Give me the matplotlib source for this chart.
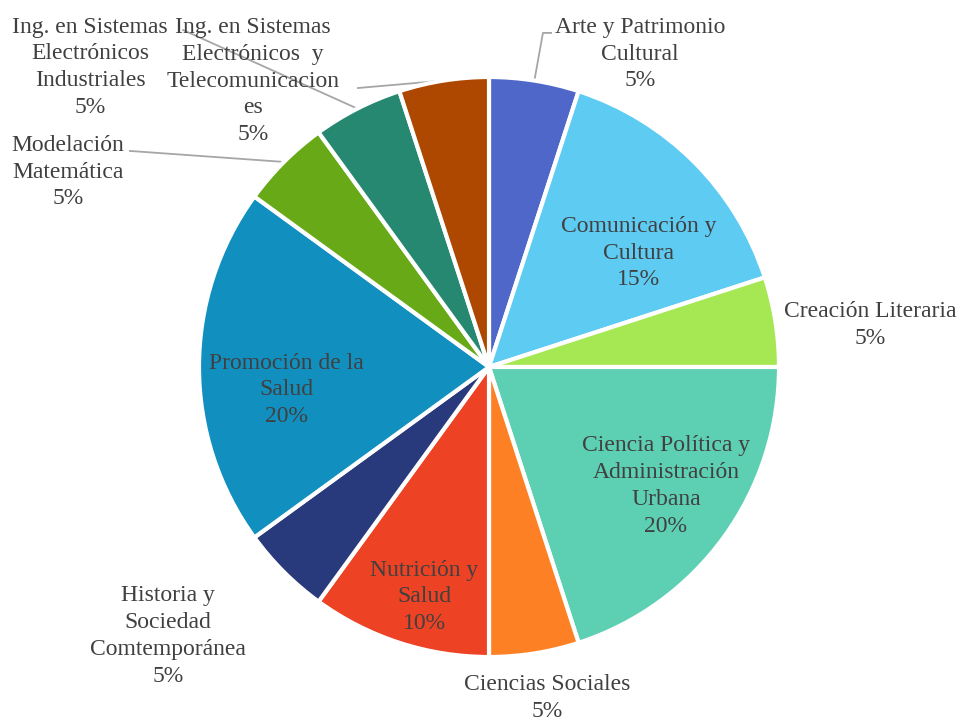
import matplotlib.pyplot as plt
import numpy as np

# Datos del gráfico (porcentajes por carrera)
carreras = [
    "Arte y Patrimonio\nCultural",
    "Comunicación y\nCultura",
    "Creación Literaria",
    "Ciencia Política y\nAdministración\nUrbana",
    "Ciencias Sociales",
    "Nutrición y\nSalud",
    "Historia y\nSociedad\nComtemporánea",
    "Promoción de la\nSalud",
    "Modelación\nMatemática",
    "Ing. en Sistemas\nElectrónicos\nIndustriales",
    "Ing. en Sistemas\nElectrónicos  y\nTelecomunicacion\nes",
]
porcentajes = [5, 15, 5, 20, 5, 10, 5, 20, 5, 5, 5]
colores = ["#4f67c9", "#5ecbf3", "#a6e853", "#5dcfb3", "#fd8124", "#ee4224",
           "#293a7c", "#118fbf", "#68a917", "#268870", "#ae4700"]

# Posiciones de las etiquetas (centro del pastel en 0,0 y radio 1)
pos_etiquetas = [(0.521, 1.079), (0.517, 0.393), (1.314, 0.145), (0.610, -0.410),
                 (0.200, -1.141), (-0.224, -0.793), (-1.107, -0.928), (-0.697, -0.079),
                 (-1.452, 0.672), (-1.376, 1.034), (-0.814, 0.986)]

# Líneas guía: índice de la porción -> puntos del lado del texto
guias = {
    0: [(0.186, 1.152), (0.214, 1.152)],
    8: [(-1.238, 0.745)],
    9: [(-1.055, 1.162)],
    10: [(-0.452, 0.962)],
}

plt.rcParams["font.family"] = ["Liberation Serif", "DejaVu Serif"]

fig = plt.figure(figsize=(9.6, 7.2), dpi=100)
ax = fig.add_axes([0, 0, 1, 1])

wedges, _ = ax.pie(porcentajes, colors=colores, startangle=90, counterclock=False,
                   radius=1, center=(0, 0),
                   wedgeprops={"edgecolor": "white", "linewidth": 3})

total = sum(porcentajes)
acum = 0
for i, (nombre, v) in enumerate(zip(carreras, porcentajes)):
    medio = (acum + v / 2) / total * 2 * np.pi
    acum += v
    x, y = pos_etiquetas[i]
    ax.text(x, y, f"{nombre}\n{v}%", ha="center", va="center", fontsize=17,
            color="#404040", linespacing=1.36)
    if i in guias:
        px = [np.sin(medio)] + [p[0] for p in guias[i]]
        py = [np.cos(medio)] + [p[1] for p in guias[i]]
        ax.plot(px, py, color="#a6a6a6", linewidth=1.3, zorder=0.5)

ax.set_xlim(-489 / 290, 471 / 290)
ax.set_ylim(-353 / 290, 367 / 290)
ax.set_aspect("equal")
ax.axis("off")

fig.savefig("out.png", dpi=100)
